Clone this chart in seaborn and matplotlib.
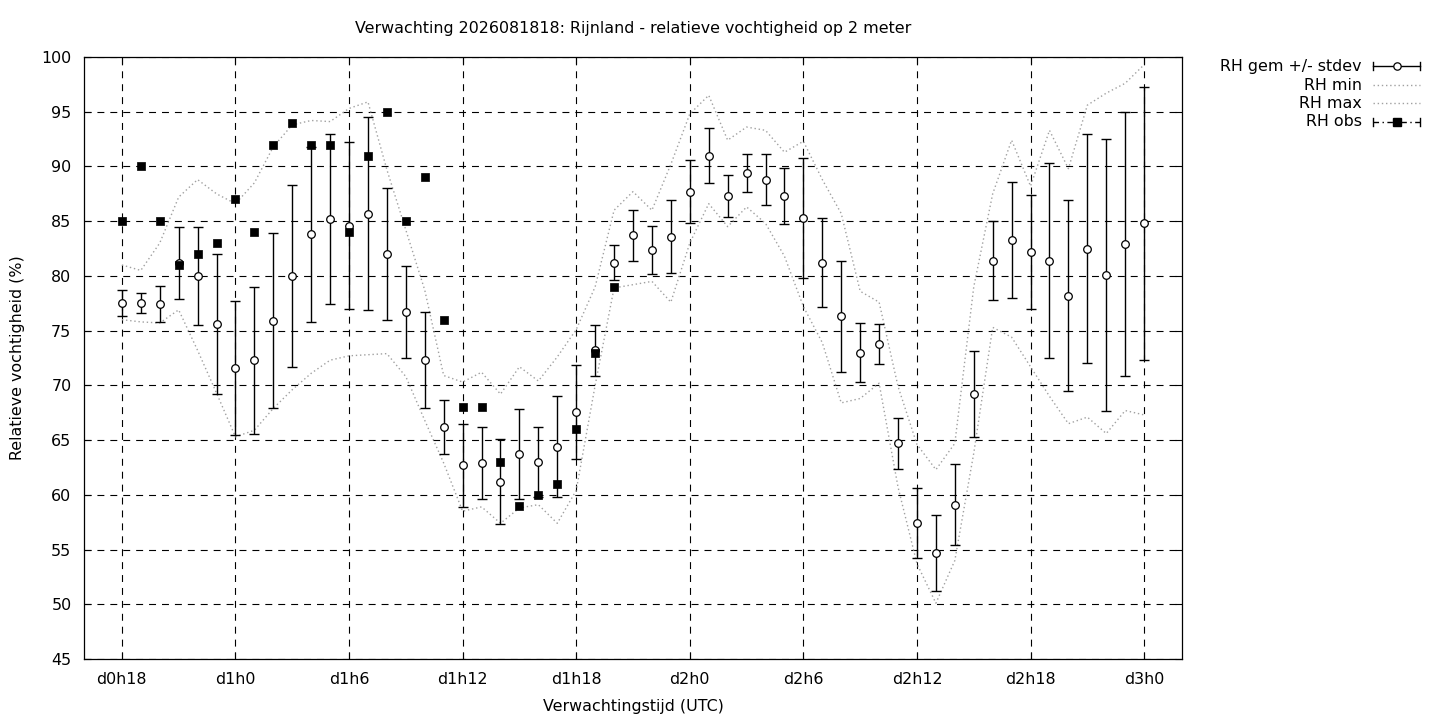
import matplotlib
matplotlib.use("Agg")
import matplotlib.pyplot as plt
from matplotlib.lines import Line2D
import seaborn as sns
import pandas as pd

# ---------------- data ----------------
hours = list(range(18, 73))  # forecast hours relative to d0h0

rh_mean = [77.5, 77.5, 77.4, 81.2, 80.0, 75.6, 71.6, 72.3, 75.9, 80.0,
           83.8, 85.2, 84.6, 85.7, 82.0, 76.7, 72.3, 66.2, 62.7, 62.9,
           61.2, 63.7, 63.0, 64.4, 67.6, 73.2, 81.2, 83.7, 82.4, 83.6,
           87.7, 91.0, 87.3, 89.4, 88.8, 87.3, 85.3, 81.2, 76.3, 73.0,
           73.8, 64.7, 57.4, 54.7, 59.1, 69.2, 81.4, 83.3, 82.2, 81.4,
           78.2, 82.5, 80.1, 82.9, 84.8]

rh_sd = [1.2, 0.9, 1.65, 3.3, 4.5, 6.4, 6.1, 6.7, 8.0, 8.3,
         8.0, 7.8, 7.6, 8.8, 6.05, 4.2, 4.4, 2.5, 3.8, 3.3,
         3.9, 4.1, 3.2, 4.6, 4.3, 2.3, 1.6, 2.3, 2.2, 3.3,
         2.9, 2.5, 1.9, 1.7, 2.3, 2.6, 5.5, 4.05, 5.1, 2.7,
         1.85, 2.3, 3.2, 3.45, 3.7, 3.9, 3.6, 5.3, 5.2, 8.9,
         8.7, 10.5, 12.4, 12.05, 12.5]

rh_min = [76.0, 75.8, 75.7, 76.9, 73.2, 69.3, 65.3, 65.9, 67.9, 69.6,
          71.1, 72.3, 72.7, 72.8, 72.9, 70.8, 66.8, 62.9, 58.5, 58.9,
          57.4, 58.8, 59.1, 57.4, 60.4, 70.0, 78.9, 79.2, 79.5, 77.6,
          83.0, 86.6, 84.5, 86.3, 84.8, 81.8, 77.2, 73.9, 68.4, 68.8,
          70.2, 60.7, 53.7, 50.1, 54.0, 63.8, 75.3, 74.4, 71.7, 69.0,
          66.5, 67.1, 65.6, 67.7, 67.3]

rh_max = [81.0, 80.5, 83.0, 87.2, 88.8, 87.5, 86.6, 88.5, 91.8, 93.8,
          94.2, 94.1, 95.3, 95.9, 89.7, 84.2, 78.7, 70.9, 70.3, 71.2,
          69.2, 71.7, 70.4, 72.6, 75.1, 79.0, 86.0, 87.7, 86.0, 90.2,
          94.8, 96.5, 92.4, 93.6, 93.3, 91.3, 92.3, 88.8, 85.7, 78.6,
          77.6, 69.9, 64.6, 62.3, 64.7, 79.0, 87.5, 92.4, 88.2, 93.3,
          89.8, 95.6, 96.7, 97.6, 99.3]

obs_hours = list(range(18, 45))
rh_obs = [85, 90, 85, 81, 82, 83, 87, 84, 92, 94, 92, 92, 84, 91, 95,
          85, 89, 76, 68, 68, 63, 59, 60, 61, 66, 73, 79]

xtick_pos = [18, 24, 30, 36, 42, 48, 54, 60, 66, 72]
xtick_labels = ["d0h18", "d1h0", "d1h6", "d1h12", "d1h18",
                "d2h0", "d2h6", "d2h12", "d2h18", "d3h0"]
ytick_pos = list(range(45, 101, 5))

title = "Verwachting 2026081818: Rijnland - relatieve vochtigheid op 2 meter"
xlabel = "Verwachtingstijd (UTC)"
ylabel = "Relatieve vochtigheid (%)"
legend_labels = ["RH gem +/- stdev", "RH min", "RH max", "RH obs"]

# ---------------- style ----------------
plt.rcParams["font.family"] = ["DejaVu Sans"]
plt.rcParams["lines.scale_dashes"] = False
FS = 11.4

df = pd.DataFrame({"hour": hours, "mean": rh_mean, "sd": rh_sd,
                   "min": rh_min, "max": rh_max})
dfo = pd.DataFrame({"hour": obs_hours, "obs": rh_obs})

W, H = 1440, 720
fig = plt.figure(figsize=(W / 100, H / 100), dpi=100)
L, R, T, B = 84, 1182, 57, 659
ax = fig.add_axes([L / W, 1 - B / H, (R - L) / W, (B - T) / H])

grey = "#a0a0a0"
dot = (0, (1, 2))
sns.lineplot(data=df, x="hour", y="min", ax=ax, color=grey, lw=1.0,
             linestyle=dot, zorder=2, legend=False)
sns.lineplot(data=df, x="hour", y="max", ax=ax, color=grey, lw=1.0,
             linestyle=dot, zorder=2, legend=False)

ax.errorbar(df["hour"], df["mean"], yerr=df["sd"], fmt="none",
            ecolor="black", elinewidth=1.0, capsize=3.3, capthick=1.0,
            zorder=3)
sns.scatterplot(data=df, x="hour", y="mean", ax=ax, marker="o", s=30,
                facecolor="white", edgecolor="black", linewidth=0.9,
                zorder=4, legend=False)
sns.scatterplot(data=dfo, x="hour", y="obs", ax=ax, marker="s", s=28,
                color="black", edgecolor="black", linewidth=0.5,
                zorder=5, legend=False)

ax.set_xlim(16, 74)
ax.set_ylim(45, 100)
ax.set_xticks(xtick_pos)
ax.set_xticklabels(xtick_labels)
ax.set_yticks(ytick_pos)
ax.set_yticklabels([str(v) for v in ytick_pos])
ax.grid(True, color="black", linestyle=(0, (5.0, 4.3)), linewidth=0.8)
ax.set_axisbelow(True)
ax.tick_params(direction="in", length=5, width=0.8, top=True, right=True,
               labelsize=FS, colors="black")
ax.tick_params(axis="y", pad=9)
ax.tick_params(axis="x", pad=9)
for s in ax.spines.values():
    s.set_linewidth(0.9)
    s.set_color("black")

ax.set_xlabel("")
ax.set_ylabel("")
fig.text((L + R) / 2 / W, 1 - 29 / H, title, ha="center", va="center",
         fontsize=FS)
fig.text((L + R) / 2 / W, 1 - 706 / H, xlabel, ha="center", va="center",
         fontsize=FS)
fig.text(18 / W, 1 - ((T + B) / 2) / H, ylabel, ha="center", va="center",
         rotation=90, fontsize=FS)

# ---------------- legend (gnuplot style key) ----------------
rows_y = [66, 85, 103, 122]
xt, x0, x1 = 1362, 1373, 1420
xm = (x0 + x1) / 2
for lab, yy in zip(legend_labels, rows_y):
    fig.text(xt / W, 1 - yy / H, lab, ha="right", va="center", fontsize=FS)


def fx(x):
    return x / W


def fy(y):
    return 1 - y / H


cap = 4
# row 1: errorbar sample
fig.add_artist(Line2D([fx(x0), fx(x1)], [fy(66), fy(66)], color="black", lw=1.0))
for xc in (x0, x1):
    fig.add_artist(Line2D([fx(xc), fx(xc)], [fy(66 - cap), fy(66 + cap)],
                          color="black", lw=1.0))
fig.add_artist(Line2D([fx(xm)], [fy(66)], marker="o", markersize=5.3,
                      markerfacecolor="white", markeredgecolor="black",
                      markeredgewidth=0.9, linestyle="none"))
# rows 2-3: dotted grey
for yy in rows_y[1:3]:
    fig.add_artist(Line2D([fx(x0), fx(x1)], [fy(yy), fy(yy)], color=grey,
                          lw=1.0, linestyle=dot))
# row 4: obs sample
fig.add_artist(Line2D([fx(x0), fx(x1)], [fy(122), fy(122)], color="black",
                      lw=1.0, linestyle=(0, (4, 2.5, 1, 2.5))))
for xc in (x0, x1):
    fig.add_artist(Line2D([fx(xc), fx(xc)], [fy(122 - cap), fy(122 + cap)],
                          color="black", lw=1.0))
fig.add_artist(Line2D([fx(xm)], [fy(122)], marker="s", markersize=5.3,
                      color="black", linestyle="none"))

fig.savefig("out.png", dpi=100)
